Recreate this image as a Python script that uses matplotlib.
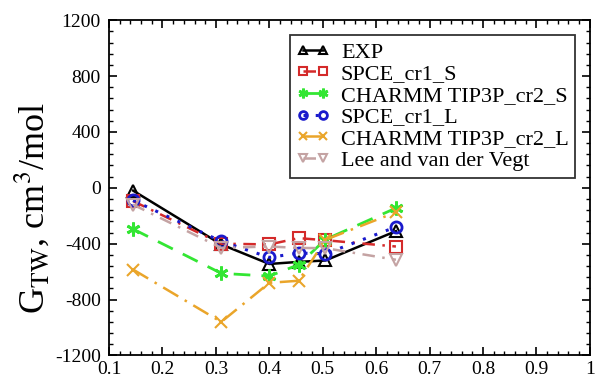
import matplotlib
matplotlib.use("Agg")
import matplotlib.pyplot as plt
from matplotlib.ticker import MultipleLocator

plt.rcParams["font.family"] = ["Liberation Serif", "DejaVu Serif"]
plt.rcParams["mathtext.fontset"] = "stix"
plt.rcParams["axes.unicode_minus"] = False
plt.rcParams["xtick.labelsize"] = 14
plt.rcParams["ytick.labelsize"] = 14

x = [0.145, 0.31, 0.40, 0.455, 0.505, 0.637]

exp_vals = [-20, -405, -545, -530, -520, -310]
spce_cr1_s = [-95, -400, -405, -360, -375, -420]
charmm_cr2_s = [-295, -612, -632, -550, -370, -145]
spce_cr1_l = [-90, -383, -498, -467, -472, -280]
charmm_cr2_l = [-585, -960, -680, -665, -372, -175]
lee_vegt = [-120, -430, -420, -430, -432, -515]

labels = ["EXP", "SPCE_cr1_S", "CHARMM TIP3P_cr2_S", "SPCE_cr1_L",
          "CHARMM TIP3P_cr2_L", "Lee and van der Vegt"]
xticks = [0.1, 0.2, 0.3, 0.4, 0.5, 0.6, 0.7, 0.8, 0.9, 1]
xticklabels = ["0.1", "0.2", "0.3", "0.4", "0.5", "0.6", "0.7", "0.8", "0.9", "1"]
yticks = [-1200, -800, -400, 0, 400, 800, 1200]
yticklabels = ["-1200", "-800", "-400", "0", "400", "800", "1200"]

fig = plt.figure(figsize=(5.95, 3.81), dpi=100)
ax = fig.add_axes([0.1833, 0.067, 0.808, 0.880])

asterisk = (6, 2, 0)

ax.plot(x, exp_vals, color="black", lw=1.8, ls="-", marker="^",
        mfc="none", mec="black", ms=8, mew=1.5, label=labels[0])
ax.plot(x, spce_cr1_s, color="#d42a2a", lw=1.8, ls=(0, (5, 3, 1, 3)), marker="s",
        mfc="none", mec="#d42a2a", ms=8, mew=1.5, label=labels[1])
ax.plot(x, charmm_cr2_s, color="#33e633", lw=2.0, ls=(0, (6, 4)), marker=asterisk,
        mfc="#33e633", mec="#33e633", ms=10, mew=2.0, label=labels[2])
ax.plot(x, spce_cr1_l, color="#1a1acc", lw=2.2, ls=(0, (1, 3)), marker="o",
        mfc="none", mec="#1a1acc", ms=8, mew=2.0, label=labels[3])
ax.plot(x, charmm_cr2_l, color="#eaa52a", lw=1.8, ls=(0, (7, 3, 1, 3)), marker="x",
        mfc="none", mec="#eaa52a", ms=8, mew=1.5, label=labels[4])
ax.plot(x, lee_vegt, color="#c4a3a3", lw=1.8, ls=(0, (5, 3, 1, 3)), marker="v",
        mfc="none", mec="#c4a3a3", ms=8, mew=1.5, label=labels[5])

ax.set_xlim(0.1, 1)
ax.set_ylim(-1200, 1200)
ax.set_xticks(xticks)
ax.set_xticklabels(xticklabels)
ax.set_yticks(yticks)
ax.set_yticklabels(yticklabels)
ax.xaxis.set_minor_locator(MultipleLocator(0.02))
ax.yaxis.set_minor_locator(MultipleLocator(80))
ax.tick_params(which="both", direction="in", top=True, right=True, labelsize=14)
ax.tick_params(which="major", length=6, width=1.2)
ax.tick_params(which="minor", length=3, width=1.0)
ax.tick_params(axis="x", which="major", pad=4)
ax.tick_params(axis="y", which="major", pad=6)
for s in ax.spines.values():
    s.set_linewidth(1.3)

ax.set_ylabel(r"G$_{\mathrm{TW}}$, cm$^{3}$/mol", fontsize=26)
ax.yaxis.set_label_coords(-0.12, 0.44)

leg = ax.legend(loc="upper right", bbox_to_anchor=(0.97, 0.955), fontsize=16,
                numpoints=2, handlelength=1.5, handletextpad=0.5,
                labelspacing=0.05, borderpad=0.3, borderaxespad=0.0,
                frameon=True, fancybox=False, edgecolor="black", markerscale=0.7)
leg.get_frame().set_linewidth(1.3)

fig.savefig("out.png", dpi=100)
